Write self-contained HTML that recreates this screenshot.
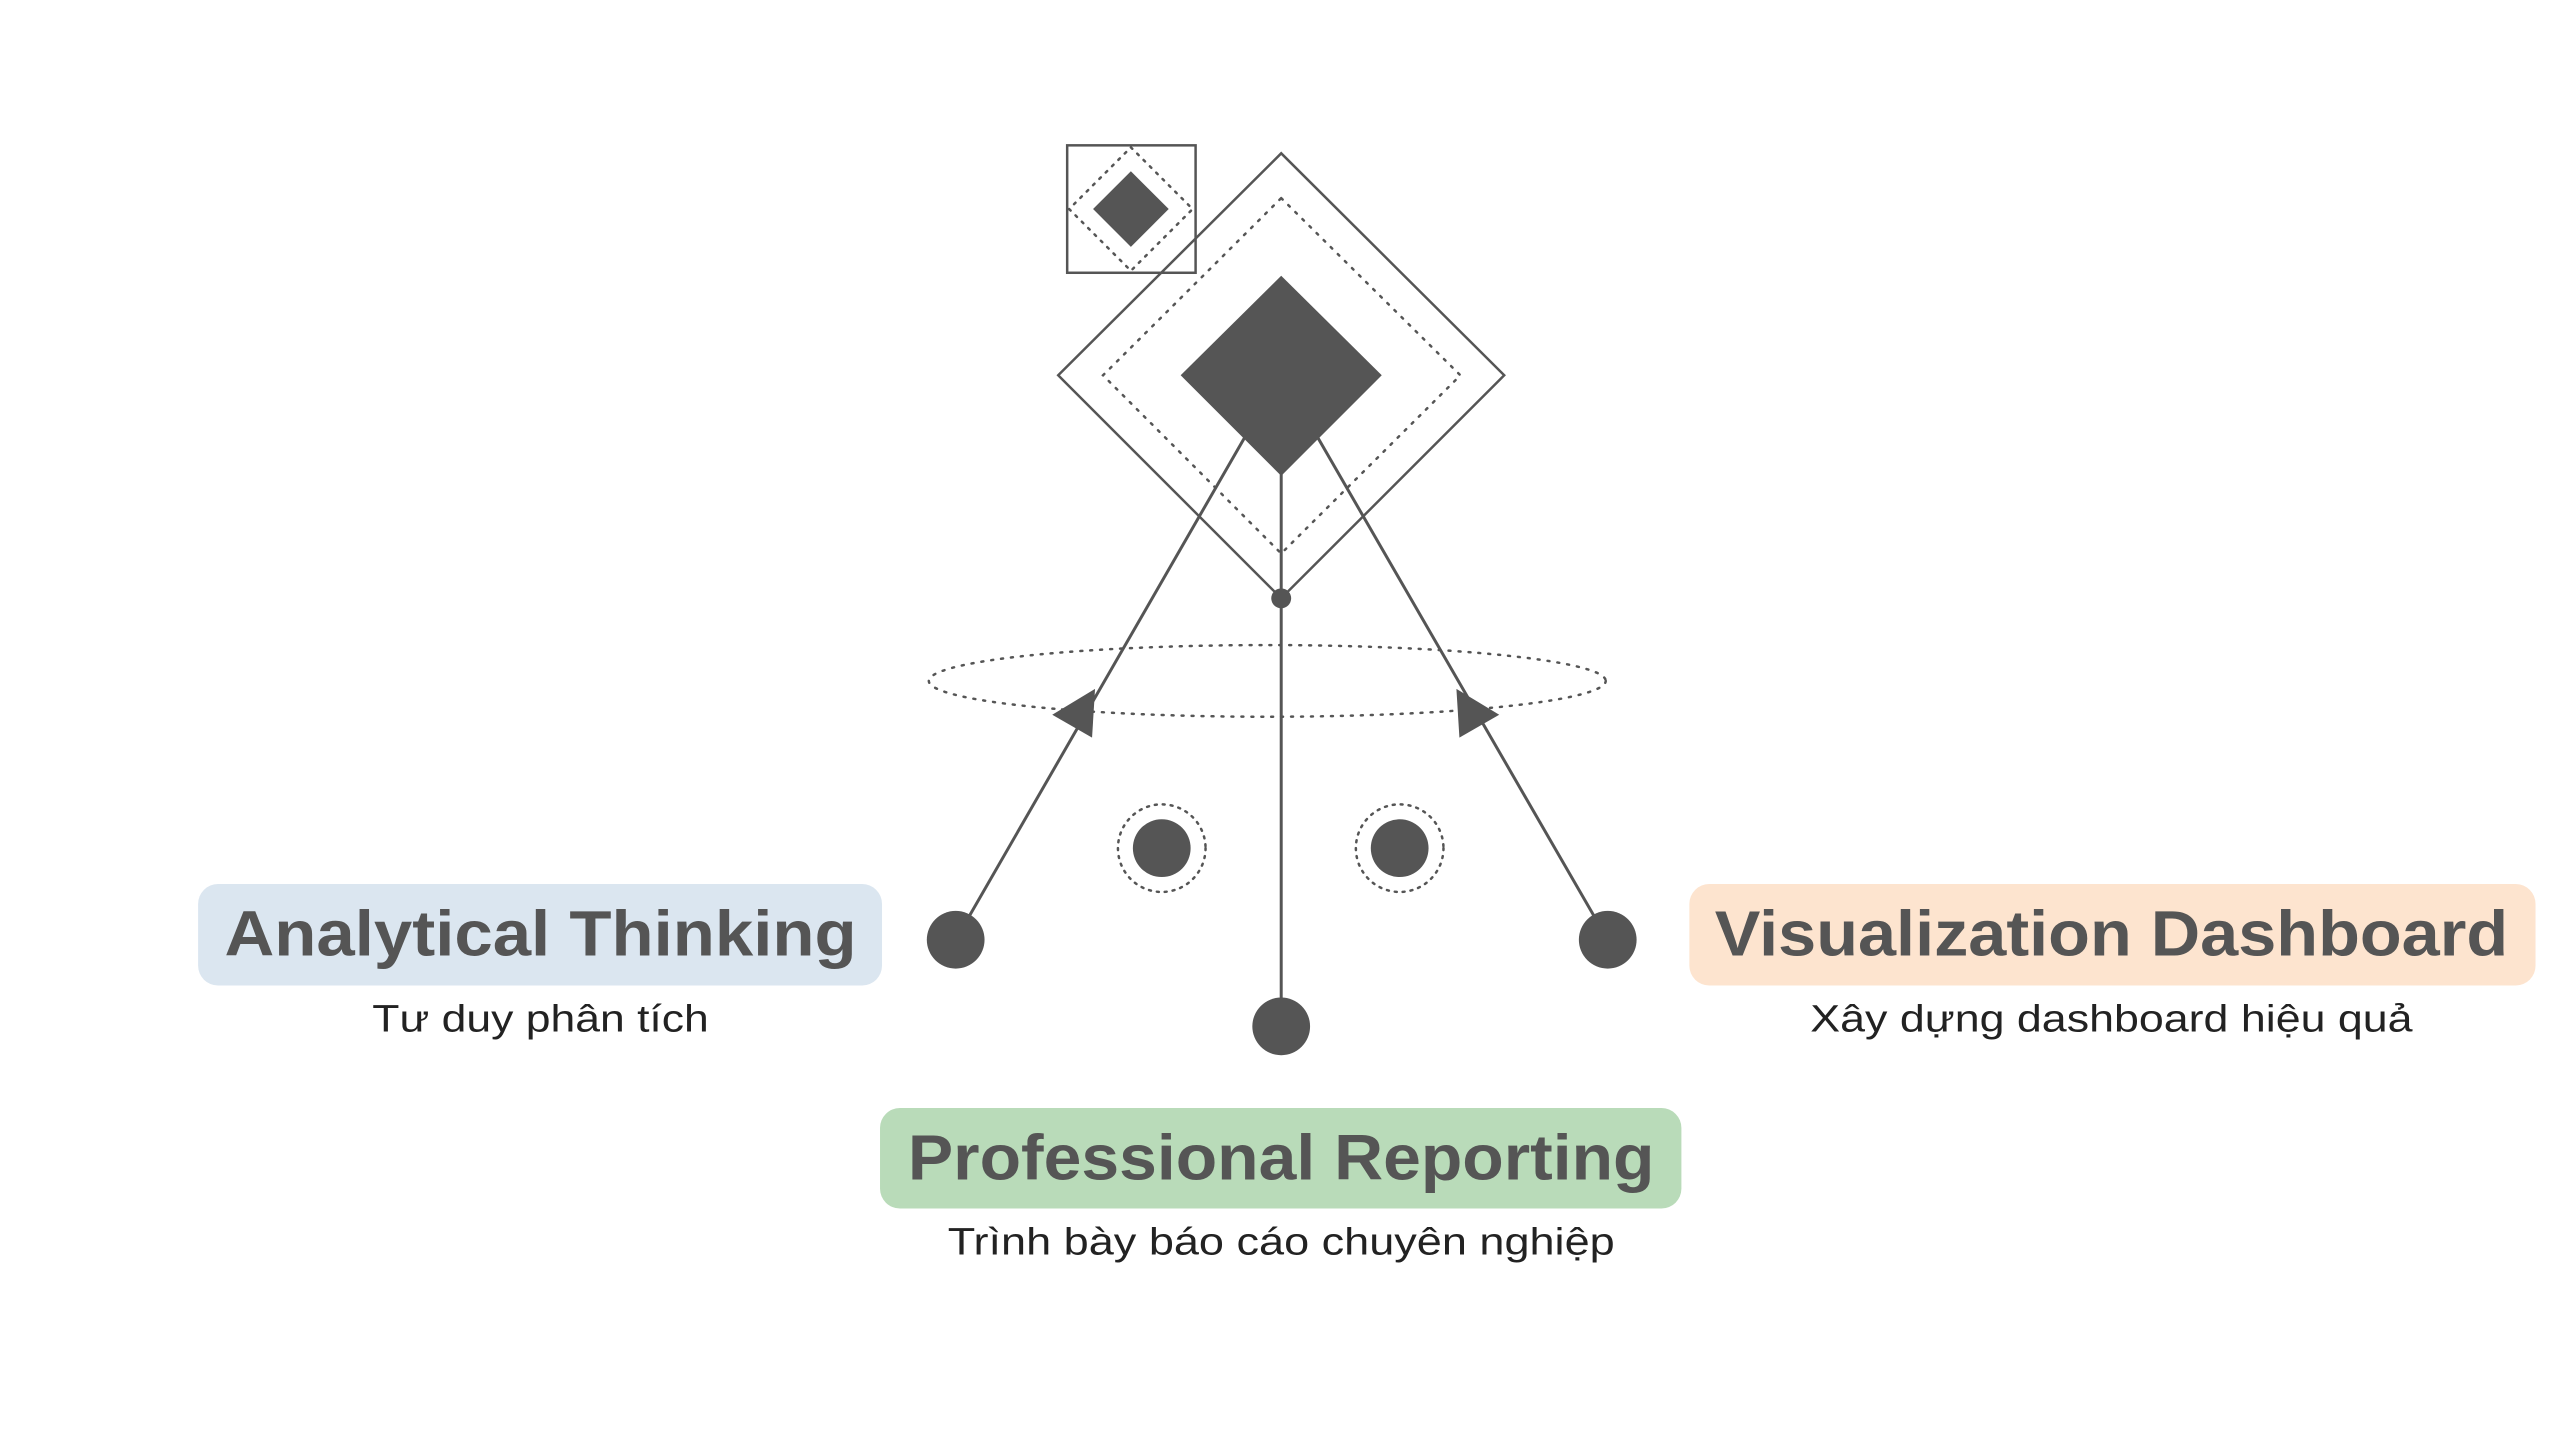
<!DOCTYPE html>
<html><head><meta charset="utf-8"><style>html,body{margin:0;padding:0;background:#fff}svg{display:block}</style></head>
<body>
<svg width="2560" height="1439" viewBox="0 0 2560 1439" xmlns="http://www.w3.org/2000/svg" font-family="Liberation Sans, sans-serif">
<rect width="2560" height="1439" fill="#fff"/>
<g transform="scale(0.9955)">
<g stroke="#555" fill="none">
<rect x="1072" y="146" width="129" height="128" stroke-width="2.5"/>
<polygon points="1136,148 1198,210 1136,272 1074,210" stroke-width="2.5" stroke-dasharray="2 7" stroke-linecap="round"/>
<polygon points="1287,154 1511,377 1287,601 1063,377" stroke-width="2.5"/>
<polygon points="1287,199 1467,377 1287,556 1108,377" stroke-width="2.5" stroke-dasharray="2 8" stroke-linecap="round"/>
<ellipse cx="1273" cy="684" rx="340" ry="36" stroke-width="2.5" stroke-dasharray="2 8" stroke-linecap="round"/>
<circle cx="1167" cy="852" r="44" stroke-width="2.5" stroke-dasharray="2 6" stroke-linecap="round"/>
<circle cx="1406" cy="852" r="44" stroke-width="2.5" stroke-dasharray="2 6" stroke-linecap="round"/>
<line x1="1250" y1="440" x2="960" y2="944" stroke-width="3"/>
<line x1="1324" y1="440" x2="1615" y2="944" stroke-width="3"/>
<line x1="1287" y1="470" x2="1287" y2="1031" stroke-width="3"/>
</g>
<g fill="#555">
<polygon points="1136,172 1174,210 1136,248 1098,210"/>
<polygon points="1287,277 1388,377 1287,478 1186,377"/>
<circle cx="1287" cy="601" r="10"/>
<polygon points="1057,718 1100,692 1097,741"/>
<polygon points="1463,692 1506,718 1466,741"/>
<circle cx="960" cy="944" r="29"/>
<circle cx="1615" cy="944" r="29"/>
<circle cx="1287" cy="1031" r="29"/>
<circle cx="1167" cy="852" r="29"/>
<circle cx="1406" cy="852" r="29"/>
</g>
<rect x="199" y="888" width="687" height="102" rx="20" fill="#dbe6f0"/>
<rect x="1697" y="888" width="850" height="102" rx="20" fill="#fde4cf"/>
<rect x="884" y="1113" width="805" height="101" rx="20" fill="#b9dbb9"/>
<g fill="#555" font-weight="bold" font-size="64" text-anchor="middle">
<text x="543" y="960" textLength="635" lengthAdjust="spacingAndGlyphs">Analytical Thinking</text>
<text x="2121" y="960" textLength="797" lengthAdjust="spacingAndGlyphs">Visualization Dashboard</text>
<text x="1287" y="1185" textLength="750" lengthAdjust="spacingAndGlyphs">Professional Reporting</text>
</g>
<g fill="#222" font-size="38" text-anchor="middle">
<text x="543" y="1036" textLength="338" lengthAdjust="spacingAndGlyphs">Tư duy phân tích</text>
<text x="2121" y="1036" textLength="605" lengthAdjust="spacingAndGlyphs">Xây dựng dashboard hiệu quả</text>
<text x="1287" y="1260" textLength="670" lengthAdjust="spacingAndGlyphs">Trình bày báo cáo chuyên nghiệp</text>
</g>
</g>
</svg>
</body></html>
